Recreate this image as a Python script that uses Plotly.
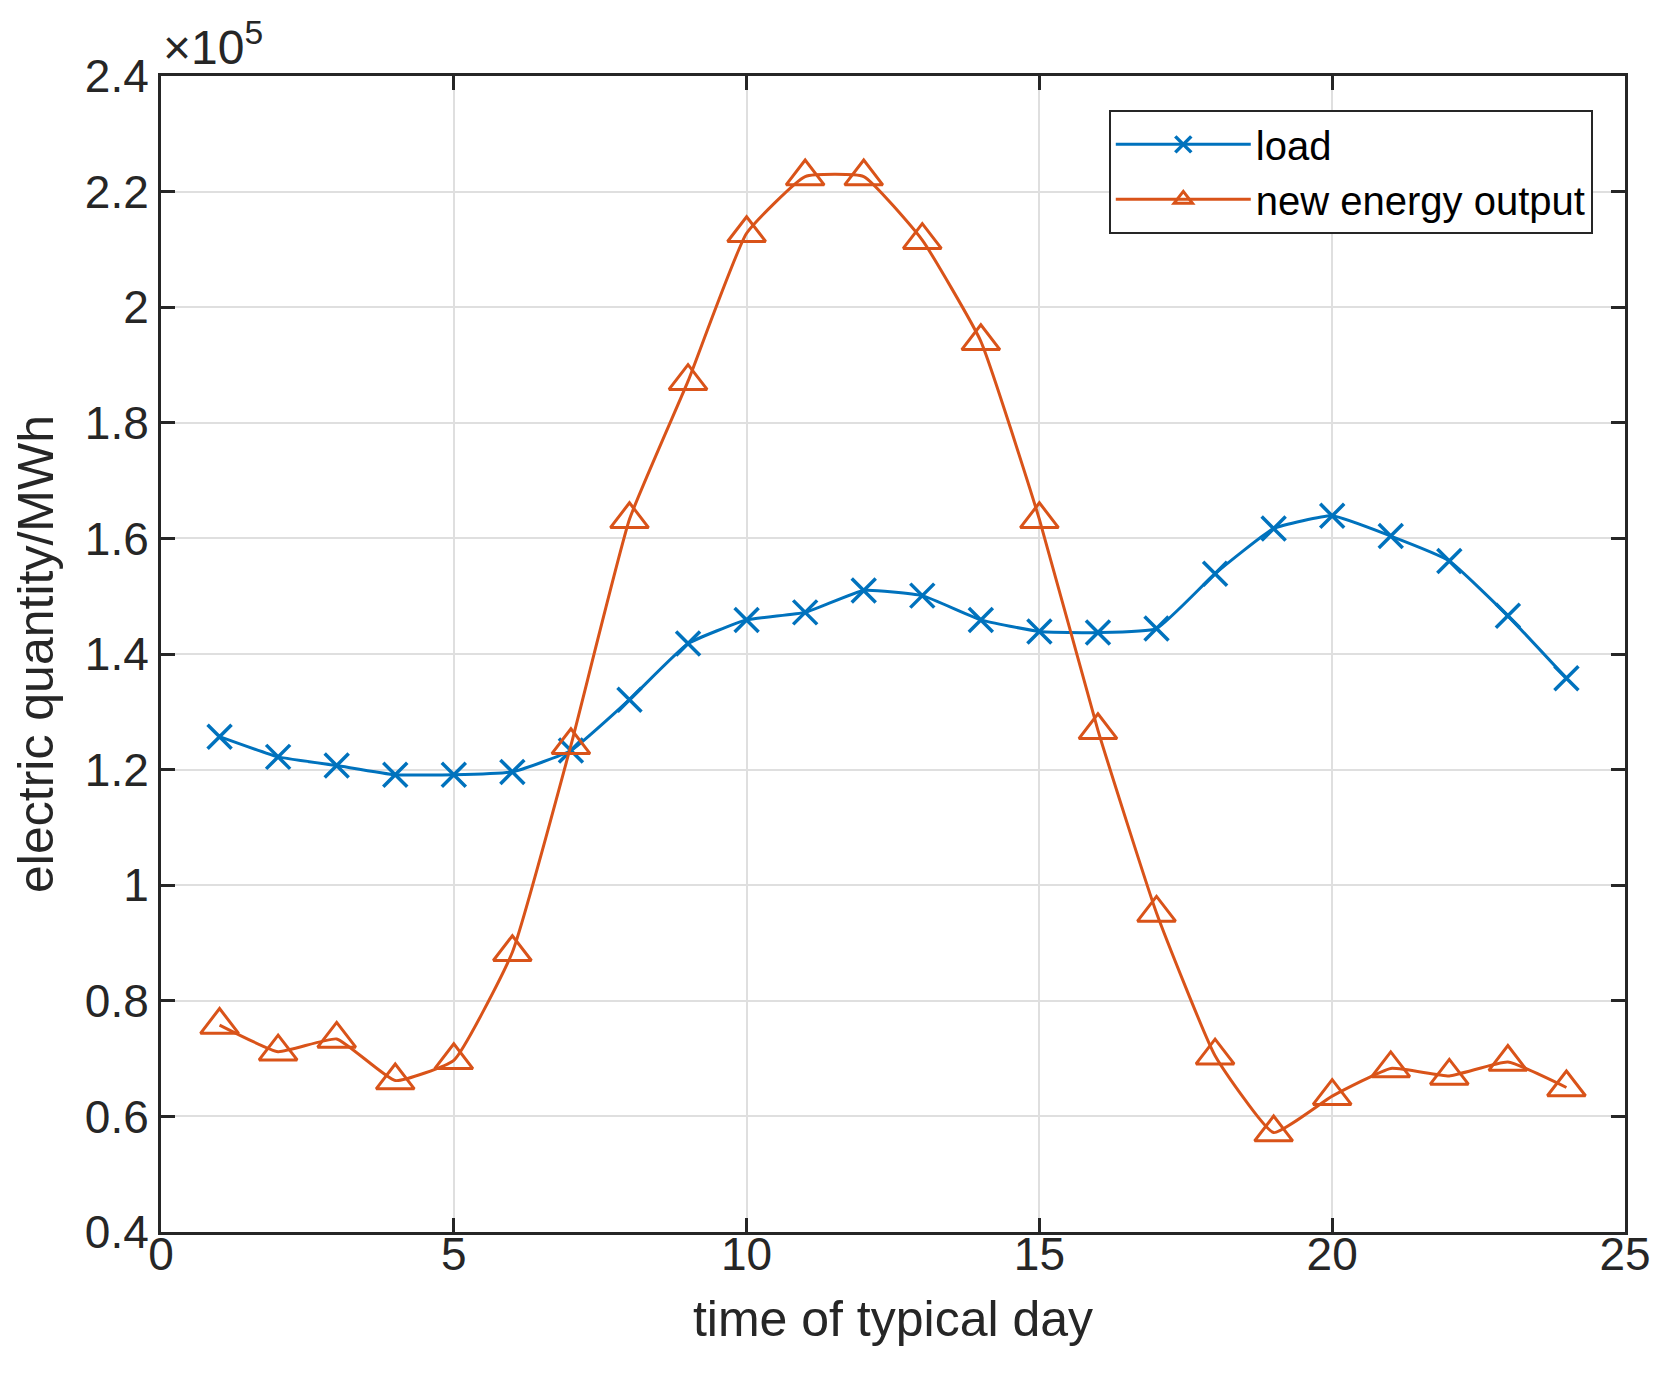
import plotly.graph_objects as go

# hour of the typical day
hours = list(range(1, 25))

# electric quantity, MWh
load = [125700, 122200, 120700, 119100, 119100, 119600, 123300, 132100,
        141800, 145900, 147200, 151000, 150100, 145900, 143900, 143700,
        144400, 153900, 161700, 163900, 160400, 156100, 146600, 135800]
new_energy = [75800, 71200, 73400, 66200, 69700, 88400, 124200, 163300,
              187200, 212800, 222600, 222600, 211600, 194100, 163300, 126800,
              95200, 70500, 57200, 63500, 68300, 67000, 69400, 65000]

y_ticks = [40000, 60000, 80000, 100000, 120000, 140000, 160000, 180000,
           200000, 220000, 240000]
y_tick_text = ["0.4", "0.6", "0.8", "1", "1.2", "1.4", "1.6", "1.8", "2", "2.2", "2.4"]
x_ticks = [0, 5, 10, 15, 20, 25]

font_family = "Liberation Sans, Arial, sans-serif"
axis_color = "#262626"

fig = go.Figure()

fig.add_trace(go.Scatter(
    x=hours, y=load, name="load", mode="lines+markers",
    line=dict(color="#0072BD", width=3, shape="spline", smoothing=0.4),
    marker=dict(symbol="x-thin-open", size=24,
                line=dict(color="#0072BD", width=3.5)),
))
fig.add_trace(go.Scatter(
    x=hours, y=new_energy, name="new energy output", mode="lines+markers",
    line=dict(color="#D95319", width=3, shape="spline", smoothing=0.4),
    marker=dict(symbol="triangle-up-open", size=33,
                line=dict(color="#D95319", width=3)),
))

fig.update_xaxes(
    range=[0, 25], tickvals=x_ticks,
    showline=True, linecolor=axis_color, linewidth=3, mirror="ticks",
    ticks="inside", ticklen=14, tickwidth=3, tickcolor=axis_color,
    showgrid=True, gridcolor="#DFDFDF", gridwidth=2, zeroline=False,
    ticklabelstandoff=-20,
    tickfont=dict(size=46, color=axis_color, family=font_family),
    title=dict(text="time of typical day", standoff=22,
               font=dict(size=50, color=axis_color, family=font_family)),
)
fig.update_yaxes(
    range=[40000, 240000], tickvals=y_ticks, ticktext=y_tick_text,
    showline=True, linecolor=axis_color, linewidth=3, mirror="ticks",
    ticks="inside", ticklen=14, tickwidth=3, tickcolor=axis_color,
    showgrid=True, gridcolor="#DFDFDF", gridwidth=2, zeroline=False,
    tickfont=dict(size=46, color=axis_color, family=font_family),
    title=dict(text="electric quantity/MWh", standoff=18,
               font=dict(size=50, color=axis_color, family=font_family)),
)

fig.add_annotation(
    text="\u00d710<sup>5</sup>", xref="paper", yref="paper", x=0, y=1,
    xanchor="left", yanchor="bottom", showarrow=False, yshift=0,
    font=dict(size=48, color=axis_color, family=font_family),
)

fig.update_layout(
    width=1662, height=1386,
    margin=dict(l=153, r=45, t=68, b=162),
    plot_bgcolor="white", paper_bgcolor="white",
    font=dict(family=font_family, color=axis_color),
    legend=dict(
        x=0.978, y=0.9707, xanchor="right", yanchor="top",
        bgcolor="white", bordercolor=axis_color, borderwidth=2,
        font=dict(size=40, color="black", family=font_family),
        itemwidth=135, tracegroupgap=0,
    ),
)

fig.write_html("out.html")
